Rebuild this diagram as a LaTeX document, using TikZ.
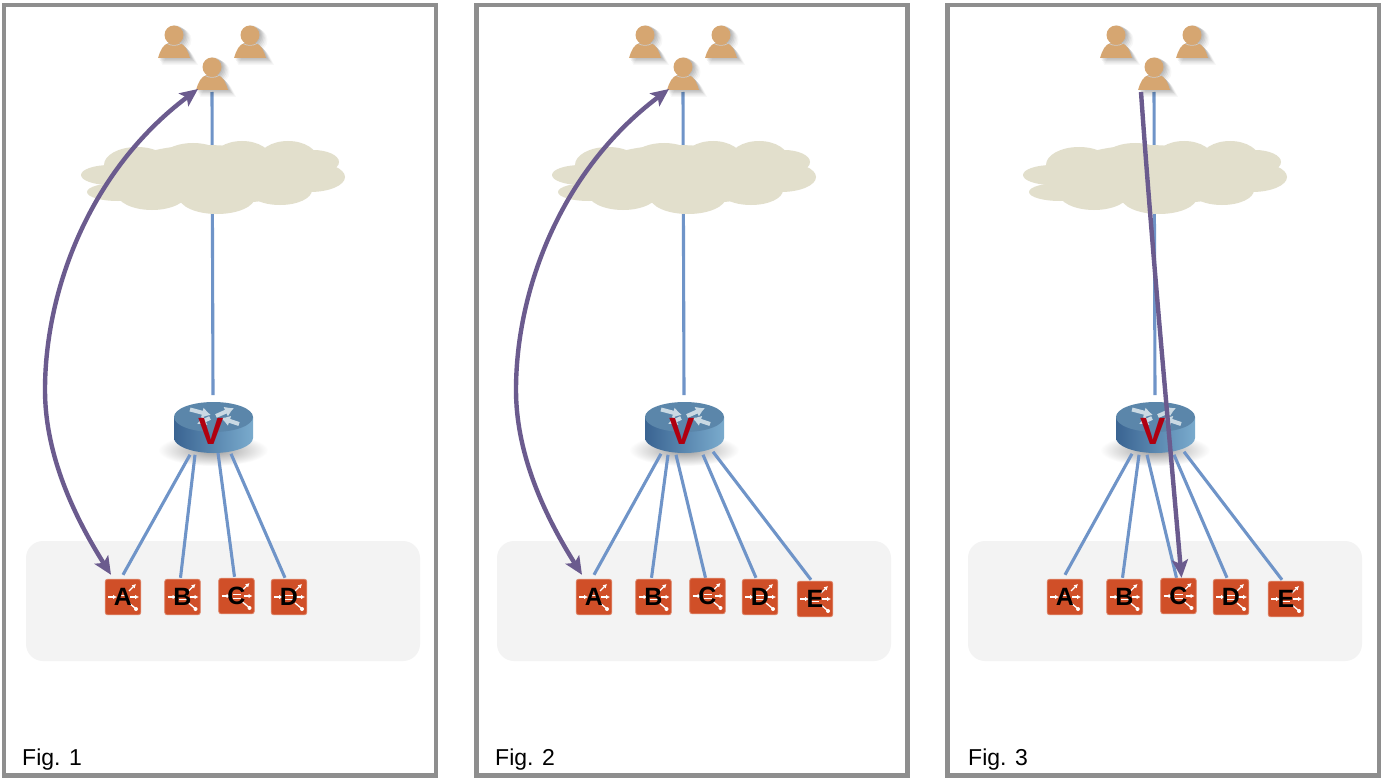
\documentclass[tikz,border=0pt]{standalone}
\usepackage{fontspec}
\setmainfont{Liberation Sans}
\usetikzlibrary{arrows.meta,calc}
\pgfdeclarelayer{lay0}\pgfdeclarelayer{lay1}\pgfdeclarelayer{lay2}
\pgfsetlayers{lay0,lay1,lay2,main}
\definecolor{framec}{HTML}{8E8E8E}
\definecolor{bandc}{HTML}{F3F3F3}
\definecolor{linkc}{HTML}{6F94C8}
\definecolor{pathc}{HTML}{6B5B8E}
\definecolor{cloudc}{HTML}{E2DFCC}
\definecolor{personc}{HTML}{D6A671}
\definecolor{switchc}{HTML}{D04F28}
\definecolor{vred}{HTML}{B00010}
\definecolor{rleft}{HTML}{3A6492}
\definecolor{rright}{HTML}{7AABCD}
\definecolor{rtop}{HTML}{5B86AA}
\definecolor{rarr}{HTML}{CAD9E3}
\tikzset{
 x=1pt,y=-1pt,
 panelframe/.style={draw=framec,line width=4.4pt,fill=white},
 band/.style={fill=bandc,rounded corners=17pt},
 link/.style={draw=linkc,line width=3.1pt},
 flow/.style={draw=pathc,line width=4.4pt},
 tipped/.style={>={Stealth[length=18pt,width=16pt,inset=4pt]}},
 figcap/.style={font=\fontsize{23}{23}\selectfont,anchor=base west,inner sep=0pt},
 vlabel/.style={font=\fontsize{38}{38}\selectfont\bfseries,text=vred,inner sep=0pt},
 swbox/.style={fill=switchc,draw=switchc!70!white,line width=.8pt,rounded corners=2.5pt},
 swtext/.style={minimum size=36pt,inner sep=0pt,text=black,font=\fontsize{25}{25}\selectfont\bfseries},
 swdeco/.style={white,line width=1.3pt,-{Latex[length=4pt,width=4.5pt]}},
 rarrow/.style={draw=rarr,line width=4pt,-{Latex[length=9pt,width=11pt]}}
}
\newcommand{\switchat}[4]{% name, x, y, text
 \begin{scope}[shift={(#2,#3)}]
  \path[swbox] (-17.8,-17.8) rectangle (17.8,17.8);
  \draw[swdeco] (-15,0)--(-6,0);
  \draw[swdeco] (7,0)--(16,0);
  \draw[swdeco] (6,-6)--(13,-13);
  \draw[white,line width=1.3pt] (6,6)--(12,11);
  \fill[white] (13,12) circle (2);
  \draw[white,line width=1pt] (-4,-1.5)--(4,-1.5) (-4,2)--(4,2);
 \end{scope}
 \node[swtext] (#1) at (#2,#3) {#4};}
\newcommand{\personat}[3]{% name, x, y of the head centre
 \coordinate (#1) at (#2,#3+25);
 \begin{scope}[shift={(#2,#3)}]
  \foreach \d/\o in {6/.03,5/.04,4/.05,3/.06,2/.06,1/.06}{
   \fill[black,opacity=\o] (\d,\d-1) circle (9.5+\d/3);
   \fill[black,opacity=\o] (-16+\d-\d/3,23+\d-1+\d/3) .. controls (-14+\d,16+\d) and (-11+\d,9+\d) .. (-5+\d,8+\d-1)
      -- (5+\d,8+\d-1) .. controls (11+\d,9+\d) and (14+\d,16+\d) .. (16+\d+\d/3,23+\d-1+\d/3) -- cycle;}
  \fill[personc] (-16,23) .. controls (-14,16) and (-11,9) .. (-5,8) -- (5,8)
     .. controls (11,9) and (14,16) .. (16,23) -- cycle;
  \draw[white!60!gray,line width=.7pt] (-7,8.5) .. controls (-3,11) and (3,11) .. (7,8.5);
  \fill[personc] (0,0) circle (9.5);
 \end{scope}}
\newcommand{\cloudshape}{%
 \fill[cloudc] (213,178) ellipse [x radius=105,y radius=26];
 \fill[cloudc] (205,172) ellipse [x radius=85,y radius=27];
 \foreach \cx/\cy/\rx/\ry in {110/175/29/10,118/192/31/9,137/165/33/18,193/163/35/20,242/160/30/19,
   288/160/30/19,313/162/26/12,310/177/35/15,280/190/32/15,217/197/38/17,152/192/36/18}{
  \fill[cloudc] (\cx,\cy) ellipse [x radius=\rx,y radius=\ry];}}
\newcommand{\routershape}{%
 \shade[left color=rleft,right color=rright] (174,417) -- (174,438)
   .. controls (174,446) and (192,453) .. (213.5,453) .. controls (235,453) and (253,446) .. (253,438)
   -- (253,417) -- cycle;
 \fill[rtop] (213.5,417) ellipse [x radius=39.5,y radius=15];
 \draw[rarrow] (190,409.5)--(211,415);
 \draw[rarrow] (216,416)--(234,408);
 \draw[rarrow] (210,418)--(197,424);
 \draw[rarrow] (239,424)--(221,418);}
\newcommand{\panelbase}[5]{% index, offset, frame left, frame right, caption x
 \begin{pgfonlayer}{lay0}
  \draw[panelframe] (#3,5) rectangle (#4,775.5);
  \begin{scope}[shift={(#2,0)}]
   \fill[band] (26,541) rectangle (420,661);
   \shade[inner color=black!40,outer color=white] (213,450) ellipse [x radius=55,y radius=16];
  \end{scope}
 \end{pgfonlayer}
 \begin{scope}[shift={(#2,0)}]
  \begin{pgfonlayer}{lay2}\cloudshape\end{pgfonlayer}
  \personat{pl#1}{174}{35}
  \personat{pr#1}{250}{35}
  \routershape
  \personat{p#1}{212}{67}
  \node[vlabel] (r#1) at (211,431.5) {V};
 \end{scope}
 \node[figcap] (cap#1) at (#5,765) {Fig. #1};}
\begin{document}
\begin{tikzpicture}
\useasboundingbox (0,0) rectangle (1381,781);
\panelbase{1}{0}{4}{436}{22}
\panelbase{2}{471}{476.5}{907.5}{495}
\panelbase{3}{942}{947.5}{1379}{968}
% switches
\switchat{a1}{123}{597}{A}
\switchat{b1}{182.5}{597}{B}
\switchat{c1}{236.5}{596}{C}
\switchat{d1}{289}{597}{D}
\switchat{a2}{594}{597}{A}
\switchat{b2}{653.5}{597}{B}
\switchat{c2}{707.5}{596}{C}
\switchat{d2}{760}{597}{D}
\switchat{e2}{815}{599}{E}
\switchat{a3}{1065}{597}{A}
\switchat{b3}{1124.5}{597}{B}
\switchat{c3}{1178.5}{596}{C}
\switchat{d3}{1231}{597}{D}
\switchat{e3}{1286}{599}{E}
% blue links
\begin{pgfonlayer}{lay1}
\foreach \n in {1,2,3}{
 \draw[link] (p\n) -- ([shift={(2,-23)}]r\n.north);}
\draw[link] ([shift={(-21,10)}]r1.south) -- ([shift={(0,-4)}]a1.north);
\draw[link] ([shift={(-16,10)}]r1.south) -- ([shift={(-2,-1)}]b1.north);
\draw[link] ([shift={(7,8)}]r1.south) -- ([shift={(-2,-1)}]c1.north);
\draw[link] ([shift={(20,9)}]r1.south) -- ([shift={(-4,-1)}]d1.north);
\foreach \n in {2,3}{
 \draw[link] ([shift={(-21,9)}]r\n.south) -- ([shift={(0,-4)}]a\n.north);
 \draw[link] ([shift={(-14,10)}]r\n.south) -- ([shift={(-2,-1)}]b\n.north);
 \draw[link] ([shift={(-6,10)}]r\n.south) -- ([shift={(-2,0)}]c\n.north);
 \draw[link] ([shift={(21,10)}]r\n.south) -- ([shift={(-4,-1)}]d\n.north);
 \draw[link] ([shift={(31,7)}]r\n.south) -- ([shift={(-4,-1)}]e\n.north);}
\end{pgfonlayer}
% purple flows
\draw[flow,tipped,<->]
  ([shift={(-12,-4)}]a1.north) .. controls (70,510) and (45,450) .. (45,390)
  .. controls (45,290) and (90,170) .. ([shift={(-14,-3)}]p1);
\draw[flow,tipped,<->]
  ([shift={(-12,-4)}]a2.north) .. controls (541,510) and (516,450) .. (516,390)
  .. controls (516,290) and (561,170) .. ([shift={(-14,-3)}]p2);
\draw[flow,tipped,->]
  ([shift={(-13,0)}]p3) .. controls (1152,250) and (1168,420) .. ([shift={(3,0)}]c3.north);
\end{tikzpicture}
\end{document}
